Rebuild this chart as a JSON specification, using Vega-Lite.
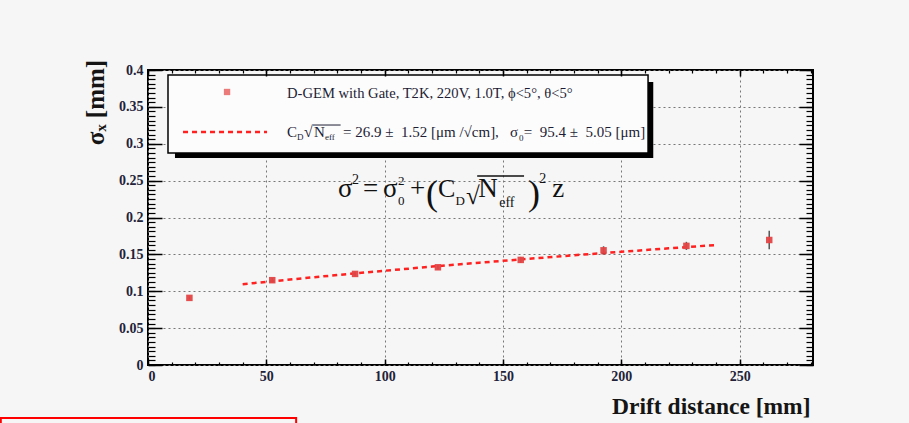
{
  "$schema": "https://vega.github.io/schema/vega-lite/v6.json",
  "autosize": "none",
  "width": 665,
  "height": 295,
  "padding": {"left": 148, "top": 70, "right": 96, "bottom": 58},
  "background": "#f6f6f6",
  "config": {
    "view": {"stroke": "#000000", "strokeWidth": 2},
    "axis": {"domain": false}
  },
  "datasets": {
    "points": [
      {"drift": 17.5, "sigma": 0.091, "lo": 0.089, "hi": 0.093},
      {"drift": 52.5, "sigma": 0.115, "lo": 0.112, "hi": 0.118},
      {"drift": 87.5, "sigma": 0.1235, "lo": 0.1205, "hi": 0.1265},
      {"drift": 122.5, "sigma": 0.1325, "lo": 0.1295, "hi": 0.1355},
      {"drift": 157.5, "sigma": 0.1425, "lo": 0.1385, "hi": 0.1465},
      {"drift": 192.5, "sigma": 0.1555, "lo": 0.1500, "hi": 0.1610},
      {"drift": 227.5, "sigma": 0.1615, "lo": 0.1560, "hi": 0.1670},
      {"drift": 262.5, "sigma": 0.1695, "lo": 0.1570, "hi": 0.1820}
    ],
    "fit": [
      {"drift": 40, "sigma": 0.1095},
      {"drift": 60, "sigma": 0.1159},
      {"drift": 80, "sigma": 0.1220},
      {"drift": 100, "sigma": 0.1278},
      {"drift": 120, "sigma": 0.1334},
      {"drift": 140, "sigma": 0.1387},
      {"drift": 160, "sigma": 0.1438},
      {"drift": 180, "sigma": 0.1488},
      {"drift": 200, "sigma": 0.1535},
      {"drift": 220, "sigma": 0.1582},
      {"drift": 240, "sigma": 0.1627}
    ]
  },
  "data": {"values": [{}]},
  "resolve": {"axis": {"x": "independent", "y": "independent"}},
  "layer": [
    {
      "mark": {"type": "rect", "color": "#000000"},
      "encoding": {
        "x": {"datum": 11.4, "type": "quantitative", "scale": {"domain": [0, 281], "nice": false, "zero": false},
              "axis": {"orient": "top", "values": [0, 50, 100, 150, 200, 250], "labels": false, "grid": false, "tickSize": -6, "tickWidth": 1.5, "tickColor": "#000", "title": null, "zindex": 1}},
        "x2": {"datum": 213.5},
        "y": {"datum": 0.3837, "type": "quantitative", "scale": {"domain": [0, 0.4], "nice": false, "zero": false},
              "axis": {"orient": "right", "values": [0, 0.05, 0.1, 0.15, 0.2, 0.25, 0.3, 0.35, 0.4], "labels": false, "grid": false, "tickSize": -14, "tickWidth": 1.5, "tickColor": "#000", "title": null, "zindex": 1}},
        "y2": {"datum": 0.2807}
      }
    },
    {
      "mark": {"type": "rect", "fill": "#fcfcfc", "stroke": "#000000", "strokeWidth": 1.5},
      "encoding": {
        "x": {"datum": 8.45, "type": "quantitative", "scale": {"domain": [0, 281], "nice": false, "zero": false},
              "axis": {"orient": "top", "values": [0,10,20,30,40,50,60,70,80,90,100,110,120,130,140,150,160,170,180,190,200,210,220,230,240,250,260,270,280], "labels": false, "grid": false, "tickSize": -3, "tickWidth": 1.2, "tickColor": "#000", "title": null, "zindex": 1}},
        "x2": {"datum": 211.3},
        "y": {"datum": 0.3932, "type": "quantitative", "scale": {"domain": [0, 0.4], "nice": false, "zero": false},
              "axis": {"orient": "right", "values": [0,0.00625,0.0125,0.01875,0.025,0.03125,0.0375,0.04375,0.05,0.05625,0.0625,0.06875,0.075,0.08125,0.0875,0.09375,0.1,0.10625,0.1125,0.11875,0.125,0.13125,0.1375,0.14375,0.15,0.15625,0.1625,0.16875,0.175,0.18125,0.1875,0.19375,0.2,0.20625,0.2125,0.21875,0.225,0.23125,0.2375,0.24375,0.25,0.25625,0.2625,0.26875,0.275,0.28125,0.2875,0.29375,0.3,0.30625,0.3125,0.31875,0.325,0.33125,0.3375,0.34375,0.35,0.35625,0.3625,0.36875,0.375,0.38125,0.3875,0.39375,0.4], "labels": false, "grid": false, "tickSize": -7, "tickWidth": 1.2, "tickColor": "#000", "title": null, "zindex": 1}},
        "y2": {"datum": 0.2875}
      }
    },
    {
      "data": {"name": "fit"},
      "mark": {"type": "line", "color": "#ff2020", "strokeWidth": 2.5, "strokeDash": [5, 4]},
      "encoding": {
        "x": {"field": "drift", "type": "quantitative", "scale": {"domain": [0, 281], "nice": false, "zero": false},
              "axis": {"orient": "bottom", "values": [0,10,20,30,40,50,60,70,80,90,100,110,120,130,140,150,160,170,180,190,200,210,220,230,240,250,260,270,280], "labels": false, "grid": false, "tickSize": -3, "tickWidth": 1.2, "tickColor": "#000", "title": null, "zindex": 1}},
        "y": {"field": "sigma", "type": "quantitative", "scale": {"domain": [0, 0.4], "nice": false, "zero": false},
              "axis": {"orient": "left", "values": [0,0.00625,0.0125,0.01875,0.025,0.03125,0.0375,0.04375,0.05,0.05625,0.0625,0.06875,0.075,0.08125,0.0875,0.09375,0.1,0.10625,0.1125,0.11875,0.125,0.13125,0.1375,0.14375,0.15,0.15625,0.1625,0.16875,0.175,0.18125,0.1875,0.19375,0.2,0.20625,0.2125,0.21875,0.225,0.23125,0.2375,0.24375,0.25,0.25625,0.2625,0.26875,0.275,0.28125,0.2875,0.29375,0.3,0.30625,0.3125,0.31875,0.325,0.33125,0.3375,0.34375,0.35,0.35625,0.3625,0.36875,0.375,0.38125,0.3875,0.39375,0.4], "labels": false, "grid": false, "tickSize": -7, "tickWidth": 1.2, "tickColor": "#000", "title": null, "zindex": 1}}
      }
    },
    {
      "data": {"name": "points"},
      "mark": {"type": "rule", "color": "#555555", "strokeWidth": 1.5},
      "encoding": {
        "x": {"field": "drift", "type": "quantitative", "scale": {"domain": [0, 281], "nice": false, "zero": false},
              "axis": {"orient": "bottom", "values": [0, 50, 100, 150, 200, 250], "labels": false, "grid": false, "tickSize": -6, "tickWidth": 1.5, "tickColor": "#000", "title": null, "zindex": 1}},
        "y": {"field": "lo", "type": "quantitative", "scale": {"domain": [0, 0.4], "nice": false, "zero": false},
              "axis": {"orient": "left", "values": [0, 0.05, 0.1, 0.15, 0.2, 0.25, 0.3, 0.35, 0.4], "labels": false, "grid": false, "tickSize": -14, "tickWidth": 1.5, "tickColor": "#000", "title": null, "zindex": 1}},
        "y2": {"field": "hi"}
      }
    },
    {
      "data": {"name": "points"},
      "mark": {"type": "square", "color": "#e44444", "size": 42, "opacity": 0.95},
      "encoding": {
        "x": {"field": "drift", "type": "quantitative", "scale": {"domain": [0, 281], "nice": false, "zero": false},
              "axis": {"orient": "bottom", "values": [0, 50, 100, 150, 200, 250], "ticks": false, "grid": true, "gridDash": [2, 3], "gridColor": "#777777", "gridWidth": 1,
                       "labelFont": "Liberation Serif", "labelFontSize": 14, "labelFontWeight": "bold", "labelColor": "#222238", "labelPadding": 4,
                       "title": "Drift distance [mm]", "titleFont": "Liberation Serif", "titleFontSize": 23.5, "titleFontWeight": "bold", "titleColor": "#151515",
                       "titleAnchor": "end", "titleAlign": "right", "titleX": 662, "titleY": 48, "titleBaseline": "alphabetic"}},
        "y": {"field": "sigma", "type": "quantitative", "scale": {"domain": [0, 0.4], "nice": false, "zero": false},
              "axis": {"orient": "left", "values": [0, 0.05, 0.1, 0.15, 0.2, 0.25, 0.3, 0.35, 0.4], "format": "~g", "ticks": false, "grid": true, "gridDash": [2, 3], "gridColor": "#777777", "gridWidth": 1,
                       "labelFont": "Liberation Serif", "labelFontSize": 14, "labelFontWeight": "bold", "labelColor": "#222238", "labelPadding": 5,
                       "title": "σₓ [mm]", "titleFont": "Liberation Serif", "titleFontSize": 25, "titleFontWeight": "bold", "titleColor": "#151515",
                       "titleAngle": -90, "titleAlign": "center", "titleBaseline": "middle", "titleX": -53, "titleY": 32}}
      }
    },
    {
      "mark": {"type": "square", "color": "#e44444", "size": 40},
      "encoding": {"x": {"datum": 33.4, "type": "quantitative", "axis": null}, "y": {"datum": 0.3702, "type": "quantitative", "axis": null}}
    },
    {
      "mark": {"type": "rule", "color": "#ff2020", "strokeWidth": 2.5, "strokeDash": [5, 4]},
      "encoding": {"x": {"datum": 14.8, "type": "quantitative", "axis": null}, "x2": {"datum": 50.3}, "y": {"datum": 0.3159, "type": "quantitative", "axis": null}}
    },
    {
      "mark": {"type": "text", "text": "D-GEM with Gate, T2K, 220V, 1.0T, ϕ<5°, θ<5°", "align": "left", "baseline": "alphabetic", "font": "Liberation Serif", "fontSize": 14.6, "color": "#1d1d35"},
      "encoding": {"x": {"datum": 58.75, "type": "quantitative", "axis": null}, "y": {"datum": 0.3620, "type": "quantitative", "axis": null}}
    },
    {
      "mark": {"type": "text", "text": "C", "align": "left", "baseline": "alphabetic", "font": "Liberation Serif", "fontSize": 15, "color": "#1d1d35"},
      "encoding": {"x": {"datum": 58.75, "type": "quantitative", "axis": null}, "y": {"datum": 0.3092, "type": "quantitative", "axis": null}}
    },
    {
      "mark": {"type": "text", "text": "D", "align": "left", "baseline": "alphabetic", "font": "Liberation Serif", "fontSize": 9, "color": "#1d1d35"},
      "encoding": {"x": {"datum": 63.0, "type": "quantitative", "axis": null}, "y": {"datum": 0.3051, "type": "quantitative", "axis": null}}
    },
    {
      "mark": {"type": "text", "text": "√", "align": "left", "baseline": "alphabetic", "font": "Liberation Serif", "fontSize": 16, "color": "#1d1d35"},
      "encoding": {"x": {"datum": 65.94, "type": "quantitative", "axis": null}, "y": {"datum": 0.3085, "type": "quantitative", "axis": null}}
    },
    {
      "mark": {"type": "text", "text": "N", "align": "left", "baseline": "alphabetic", "font": "Liberation Serif", "fontSize": 15, "color": "#1d1d35"},
      "encoding": {"x": {"datum": 70.1, "type": "quantitative", "axis": null}, "y": {"datum": 0.3092, "type": "quantitative", "axis": null}}
    },
    {
      "mark": {"type": "text", "text": "eff", "align": "left", "baseline": "alphabetic", "font": "Liberation Serif", "fontSize": 9, "color": "#1d1d35"},
      "encoding": {"x": {"datum": 74.8, "type": "quantitative", "axis": null}, "y": {"datum": 0.3051, "type": "quantitative", "axis": null}}
    },
    {
      "mark": {"type": "rule", "color": "#1d1d35", "strokeWidth": 1},
      "encoding": {"x": {"datum": 69.7, "type": "quantitative", "axis": null}, "x2": {"datum": 81.4}, "y": {"datum": 0.3254, "type": "quantitative", "axis": null}}
    },
    {
      "mark": {"type": "text", "text": "= 26.9 ±\u00a0\u00a01.52 [μm /√cm],", "align": "left", "baseline": "alphabetic", "font": "Liberation Serif", "fontSize": 15, "color": "#1d1d35"},
      "encoding": {"x": {"datum": 82.4, "type": "quantitative", "axis": null}, "y": {"datum": 0.3092, "type": "quantitative", "axis": null}}
    },
    {
      "mark": {"type": "text", "text": "σ", "align": "left", "baseline": "alphabetic", "font": "Liberation Serif", "fontSize": 15, "color": "#1d1d35"},
      "encoding": {"x": {"datum": 153.0, "type": "quantitative", "axis": null}, "y": {"datum": 0.3092, "type": "quantitative", "axis": null}}
    },
    {
      "mark": {"type": "text", "text": "0", "align": "left", "baseline": "alphabetic", "font": "Liberation Serif", "fontSize": 9, "color": "#1d1d35"},
      "encoding": {"x": {"datum": 156.8, "type": "quantitative", "axis": null}, "y": {"datum": 0.3037, "type": "quantitative", "axis": null}}
    },
    {
      "mark": {"type": "text", "text": "=\u00a0\u00a095.4 ±\u00a0\u00a05.05 [μm]", "align": "right", "baseline": "alphabetic", "font": "Liberation Serif", "fontSize": 15, "color": "#1d1d35"},
      "encoding": {"x": {"datum": 210.1, "type": "quantitative", "axis": null}, "y": {"datum": 0.3092, "type": "quantitative", "axis": null}}
    },
    {
      "mark": {"type": "text", "text": "σ", "align": "left", "baseline": "alphabetic", "font": "Liberation Serif", "fontSize": 27, "color": "#111111"},
      "encoding": {"x": {"datum": 80.31, "type": "quantitative", "axis": null}, "y": {"datum": 0.2278, "type": "quantitative", "axis": null}}
    },
    {
      "mark": {"type": "text", "text": "2", "align": "left", "baseline": "alphabetic", "font": "Liberation Serif", "fontSize": 14, "color": "#111111"},
      "encoding": {"x": {"datum": 86.23, "type": "quantitative", "axis": null}, "y": {"datum": 0.2454, "type": "quantitative", "axis": null}}
    },
    {
      "mark": {"type": "text", "text": "=", "align": "left", "baseline": "alphabetic", "font": "Liberation Serif", "fontSize": 27, "color": "#111111"},
      "encoding": {"x": {"datum": 90.9, "type": "quantitative", "axis": null}, "y": {"datum": 0.2278, "type": "quantitative", "axis": null}}
    },
    {
      "mark": {"type": "text", "text": "σ", "align": "left", "baseline": "alphabetic", "font": "Liberation Serif", "fontSize": 27, "color": "#111111"},
      "encoding": {"x": {"datum": 99.33, "type": "quantitative", "axis": null}, "y": {"datum": 0.2278, "type": "quantitative", "axis": null}}
    },
    {
      "mark": {"type": "text", "text": "2", "align": "left", "baseline": "alphabetic", "font": "Liberation Serif", "fontSize": 13, "color": "#111111"},
      "encoding": {"x": {"datum": 105.67, "type": "quantitative", "axis": null}, "y": {"datum": 0.2441, "type": "quantitative", "axis": null}}
    },
    {
      "mark": {"type": "text", "text": "0", "align": "left", "baseline": "alphabetic", "font": "Liberation Serif", "fontSize": 13, "color": "#111111"},
      "encoding": {"x": {"datum": 105.67, "type": "quantitative", "axis": null}, "y": {"datum": 0.2169, "type": "quantitative", "axis": null}}
    },
    {
      "mark": {"type": "text", "text": "+", "align": "left", "baseline": "alphabetic", "font": "Liberation Serif", "fontSize": 27, "color": "#111111"},
      "encoding": {"x": {"datum": 110.75, "type": "quantitative", "axis": null}, "y": {"datum": 0.2278, "type": "quantitative", "axis": null}}
    },
    {
      "mark": {"type": "text", "text": "(", "align": "left", "baseline": "alphabetic", "font": "Liberation Serif", "fontSize": 36, "color": "#111111"},
      "encoding": {"x": {"datum": 117.5, "type": "quantitative", "axis": null}, "y": {"datum": 0.2169, "type": "quantitative", "axis": null}}
    },
    {
      "mark": {"type": "text", "text": "C", "align": "left", "baseline": "alphabetic", "font": "Liberation Serif", "fontSize": 26, "color": "#111111"},
      "encoding": {"x": {"datum": 122.58, "type": "quantitative", "axis": null}, "y": {"datum": 0.2278, "type": "quantitative", "axis": null}}
    },
    {
      "mark": {"type": "text", "text": "D", "align": "left", "baseline": "alphabetic", "font": "Liberation Serif", "fontSize": 13, "color": "#111111"},
      "encoding": {"x": {"datum": 129.9, "type": "quantitative", "axis": null}, "y": {"datum": 0.2169, "type": "quantitative", "axis": null}}
    },
    {
      "mark": {"type": "text", "text": "√", "align": "left", "baseline": "alphabetic", "font": "Liberation Serif", "fontSize": 25, "color": "#111111"},
      "encoding": {"x": {"datum": 134.4, "type": "quantitative", "axis": null}, "y": {"datum": 0.2183, "type": "quantitative", "axis": null}}
    },
    {
      "mark": {"type": "text", "text": "N", "align": "left", "baseline": "alphabetic", "font": "Liberation Serif", "fontSize": 27, "color": "#111111"},
      "encoding": {"x": {"datum": 139.5, "type": "quantitative", "axis": null}, "y": {"datum": 0.2278, "type": "quantitative", "axis": null}}
    },
    {
      "mark": {"type": "text", "text": "eff", "align": "left", "baseline": "alphabetic", "font": "Liberation Serif", "fontSize": 14, "color": "#111111"},
      "encoding": {"x": {"datum": 148.4, "type": "quantitative", "axis": null}, "y": {"datum": 0.2142, "type": "quantitative", "axis": null}}
    },
    {
      "mark": {"type": "rule", "color": "#111111", "strokeWidth": 1.3},
      "encoding": {"x": {"datum": 139.1, "type": "quantitative", "axis": null}, "x2": {"datum": 158.9}, "y": {"datum": 0.2563, "type": "quantitative", "axis": null}}
    },
    {
      "mark": {"type": "text", "text": ")", "align": "left", "baseline": "alphabetic", "font": "Liberation Serif", "fontSize": 36, "color": "#111111"},
      "encoding": {"x": {"datum": 160.6, "type": "quantitative", "axis": null}, "y": {"datum": 0.2169, "type": "quantitative", "axis": null}}
    },
    {
      "mark": {"type": "text", "text": "2", "align": "left", "baseline": "alphabetic", "font": "Liberation Serif", "fontSize": 14, "color": "#111111"},
      "encoding": {"x": {"datum": 165.3, "type": "quantitative", "axis": null}, "y": {"datum": 0.2468, "type": "quantitative", "axis": null}}
    },
    {
      "mark": {"type": "text", "text": "z", "align": "left", "baseline": "alphabetic", "font": "Liberation Serif", "fontSize": 27, "color": "#111111"},
      "encoding": {"x": {"datum": 170.8, "type": "quantitative", "axis": null}, "y": {"datum": 0.2278, "type": "quantitative", "axis": null}}
    },
    {
      "mark": {"type": "rect", "fill": null, "fillOpacity": 0, "stroke": "#ff0000", "strokeWidth": 2},
      "encoding": {"x": {"datum": -62.2, "type": "quantitative", "axis": null}, "x2": {"datum": 62.6}, "y": {"datum": -0.0719, "type": "quantitative", "axis": null}, "y2": {"datum": -0.09}}
    }
  ]
}
